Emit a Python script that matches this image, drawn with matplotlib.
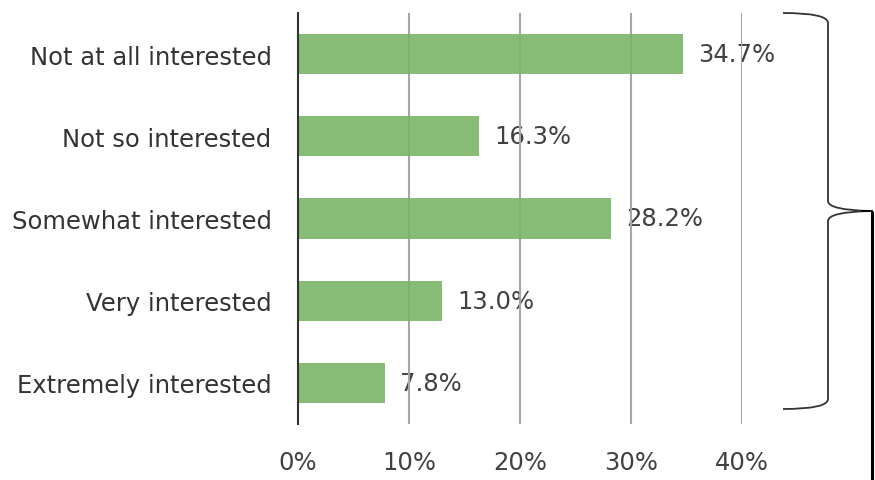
import matplotlib.pyplot as plt
from matplotlib.path import Path
from matplotlib.patches import PathPatch

categories = ["Not at all interested", "Not so interested", "Somewhat interested",
              "Very interested", "Extremely interested"]
values = [34.7, 16.3, 28.2, 13.0, 7.8]
xticks = [0, 10, 20, 30, 40]

fs = 17.5

fig = plt.figure(figsize=(8.75, 4.81), dpi=100)
ax = fig.add_axes([298/875, 1-425/481, (742-298)/875, (425-14)/481])

ypos = list(range(len(categories)))
ax.barh(ypos, values, height=0.49, color="#79B567", alpha=0.9, zorder=2)
for y, v in zip(ypos, values):
    ax.text(v + 1.35, y, f"{v:.1f}%", va="center", ha="left", fontsize=fs,
            color="#404040", zorder=0.5)

ax.set_yticks(ypos)
ax.set_yticklabels(categories, fontsize=fs, color="#333333")
ax.set_ylim(len(categories) - 0.5, -0.5)
ax.set_xlim(0, 40)
ax.set_xticks(xticks)
ax.set_xticklabels([f"{t}%" for t in xticks], fontsize=fs, color="#404040")
ax.tick_params(axis="both", length=0)
ax.tick_params(axis="x", pad=19)
ax.tick_params(axis="y", pad=19)

for t in xticks[1:]:
    ax.axvline(t, color="#a6a6a6", linewidth=1.5, zorder=1)
for s in ["top", "right", "bottom"]:
    ax.spines[s].set_visible(False)
ax.spines["left"].set_color("#333333")
ax.spines["left"].set_linewidth(1.5)
ax.spines["left"].set_zorder(3)

# brace on the right, drawn in pixel coordinates on an overlay
ov = fig.add_axes([0, 0, 1, 1], facecolor="none")
ov.set_xlim(0, 875)
ov.set_ylim(481, 0)
ov.axis("off")

verts = [(783, 14), (828, 14), (828, 24),
         (828, 202),
         (828, 211), (870, 212),
         (828, 213), (828, 222),
         (828, 400),
         (828, 410), (783, 410)]
codes = [Path.MOVETO, Path.CURVE3, Path.CURVE3,
         Path.LINETO,
         Path.CURVE3, Path.CURVE3,
         Path.CURVE3, Path.CURVE3,
         Path.LINETO,
         Path.CURVE3, Path.CURVE3]
ov.add_patch(PathPatch(Path(verts, codes), facecolor="none", edgecolor="#333333", linewidth=1.3))
ov.plot([872, 872], [212, 481], color="black", linewidth=2.2, solid_capstyle="butt")
ov.plot([862, 872], [212, 212], color="black", linewidth=1.3)

fig.savefig("out.png", dpi=100)
